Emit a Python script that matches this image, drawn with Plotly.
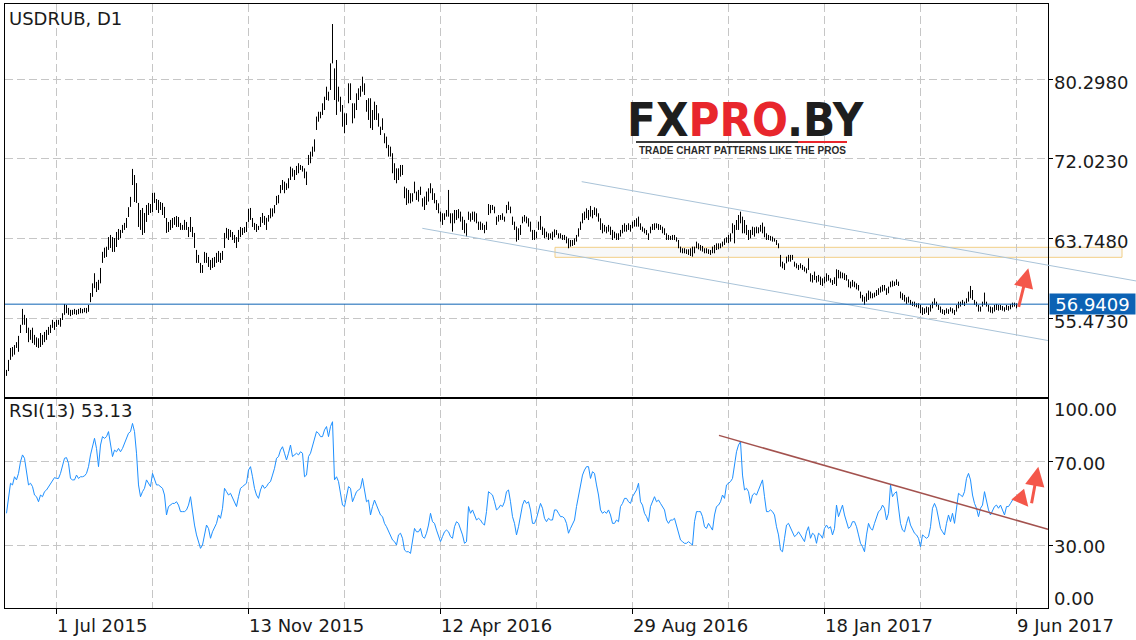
import plotly.graph_objects as go

# ---------------- data ----------------
chart_title = "USDRUB, D1"
rsi_title = "RSI(13) 53.13"
last_price = 56.9409

bar_high = [
    50.12, 51.16, 52.40, 52.50, 52.70, 53.00, 53.65, 54.80, 56.45, 55.83,
    55.50, 54.50, 54.27, 54.50, 53.75, 53.50, 53.40, 53.95, 53.75, 54.06,
    54.27, 54.58, 54.80, 55.31, 55.10, 55.31, 55.31, 55.50, 56.00, 56.96,
    56.86, 56.55, 56.35, 56.35, 56.45, 56.35, 56.45, 56.55, 56.45, 56.55,
    56.55, 56.86, 58.10, 59.10, 60.15, 59.25, 59.46, 60.70, 62.37, 62.80,
    62.90, 63.90, 64.12, 63.90, 63.80, 64.43, 64.74, 64.64, 65.16, 65.37,
    65.88, 67.00, 68.07, 70.97, 70.34, 69.50, 67.44, 66.71, 66.92, 66.40,
    67.23, 67.44, 67.33, 68.50, 68.50, 67.85, 67.75, 67.54, 67.44, 67.03,
    65.88, 65.47, 65.68, 65.88, 65.98, 66.09, 65.98, 65.37, 65.16, 65.68,
    65.47, 64.95, 65.98, 64.95, 64.33, 62.57, 62.05, 61.22, 61.00, 62.36,
    62.26, 61.84, 61.53, 61.74, 61.84, 62.26, 62.46, 62.26, 62.46, 64.33,
    64.85, 64.74, 64.64, 64.43, 64.12, 63.90, 64.64, 64.95, 64.85, 64.95,
    65.47, 66.82, 66.92, 65.88, 65.37, 65.26, 65.06, 65.98, 66.40, 66.09,
    65.90, 66.19, 66.88, 66.88, 67.23, 68.17, 68.27, 69.30, 69.82, 69.65,
    69.48, 70.00, 71.20, 71.03, 70.86, 71.28, 71.56, 71.38, 71.28, 71.03,
    70.69, 72.42, 72.76, 73.28, 74.04, 76.40, 76.90, 76.90, 77.78, 78.46,
    79.50, 78.98, 81.92, 86.00, 81.40, 82.27, 79.50, 78.46, 77.60, 76.74,
    76.74, 79.85, 79.85, 77.78, 77.78, 78.81, 79.33, 79.58, 80.54, 79.85,
    78.12, 78.30, 78.30, 77.08, 77.95, 77.60, 76.74, 75.35, 76.22, 74.67,
    74.32, 73.46, 73.28, 72.60, 71.56, 71.03, 71.03, 71.38, 71.38, 69.13,
    68.96, 68.79, 68.45, 68.45, 69.65, 68.62, 68.79, 69.13, 67.93, 68.10,
    68.62, 68.96, 69.48, 68.96, 68.45, 67.75, 67.40, 66.54, 66.37, 66.37,
    66.71, 68.79, 66.37, 66.37, 66.71, 66.71, 66.80, 66.54, 66.02, 65.68,
    65.33, 66.54, 66.37, 66.54, 66.54, 66.37, 65.50, 65.50, 65.33, 65.16,
    65.50, 67.33, 67.23, 67.23, 67.06, 66.02, 66.19, 66.19, 66.37, 66.02,
    67.23, 67.58, 67.06, 66.02, 65.50, 64.99, 64.81, 65.16, 66.02, 66.19,
    66.02, 65.85, 65.50, 64.64, 64.64, 64.46, 65.50, 66.09, 64.98, 64.81,
    64.46, 64.29, 64.29, 64.46, 64.70, 64.64, 64.29, 64.29, 64.12, 64.12,
    63.95, 63.77, 63.60, 63.60, 63.77, 64.12, 64.81, 65.50, 66.37, 66.54,
    66.88, 66.71, 67.13, 66.71, 66.99, 66.88, 66.37, 65.85, 65.33, 65.16,
    64.98, 65.16, 64.98, 64.64, 64.46, 64.29, 64.29, 64.64, 65.16, 65.33,
    65.16, 65.33, 65.16, 65.50, 65.67, 65.85, 66.02, 65.33, 64.98, 64.81,
    64.64, 64.29, 64.98, 65.26, 65.33, 65.33, 65.26, 65.16, 64.98, 64.81,
    64.29, 64.12, 64.02, 64.12, 64.12, 63.88, 63.60, 62.91, 62.74, 62.74,
    62.63, 62.63, 62.74, 62.91, 62.91, 63.43, 63.25, 63.08, 62.98, 62.74,
    62.74, 62.63, 62.56, 62.91, 63.08, 63.25, 63.25, 63.25, 63.43, 63.77,
    63.88, 64.12, 64.29, 65.33, 65.16, 65.67, 66.19, 66.54, 66.02, 65.67,
    65.16, 64.64, 64.64, 64.98, 64.91, 64.98, 64.91, 65.16, 65.40, 64.98,
    64.29, 64.12, 64.02, 63.95, 63.77, 63.60, 63.25, 62.05, 61.35, 61.18,
    61.87, 62.05, 62.05, 62.05, 61.35, 61.18, 61.01, 61.18, 61.01, 60.83,
    60.66, 61.70, 60.14, 59.97, 60.32, 59.87, 59.97, 59.80, 59.62, 59.80,
    60.14, 59.97, 59.62, 59.45, 59.73, 60.56, 60.49, 60.32, 60.21, 60.14,
    59.97, 59.52, 59.28, 59.45, 59.28, 59.10, 58.93, 58.24, 57.90, 57.72,
    58.07, 58.35, 58.24, 58.07, 58.14, 58.41, 58.59, 58.76, 58.93, 58.93,
    58.59, 58.76, 59.28, 59.38, 59.28, 59.52, 59.28, 58.24, 58.07, 57.90,
    57.65, 57.72, 57.38, 57.20, 57.20, 57.03, 57.03, 56.86, 56.62, 56.51,
    56.69, 56.62, 56.86, 57.20, 57.55, 57.20, 56.86, 56.69, 56.41, 56.34,
    56.51, 56.41, 56.62, 56.51, 56.34, 56.86, 57.20, 57.20, 57.38, 57.20,
    57.55, 58.24, 58.83, 58.41, 57.38, 57.20, 56.86, 56.69, 57.20, 58.14,
    57.20, 56.86, 56.69, 56.62, 56.86, 56.96, 56.86, 56.86, 56.76, 56.62,
    56.86, 56.76, 56.96, 57.10, 57.10, 57.03,
]

bar_low = [
    49.50, 50.00, 51.16, 51.50, 51.70, 52.40, 52.00, 53.95, 54.80, 54.80,
    53.95, 53.00, 53.24, 52.90, 52.72, 52.50, 52.40, 52.50, 52.72, 53.00,
    53.24, 53.75, 53.95, 54.48, 54.27, 54.58, 54.80, 54.60, 55.30, 55.83,
    56.00, 55.83, 55.70, 55.83, 55.90, 55.83, 55.90, 56.00, 56.00, 56.10,
    56.00, 56.15, 57.15, 57.70, 58.60, 58.20, 58.42, 59.10, 61.22, 61.74,
    61.84, 62.57, 62.77, 62.36, 62.36, 62.87, 63.60, 63.80, 64.33, 64.64,
    64.85, 65.98, 67.03, 69.30, 67.54, 67.44, 64.95, 64.64, 64.12, 64.33,
    65.47, 66.19, 66.40, 66.50, 67.44, 66.71, 66.40, 66.71, 66.19, 65.88,
    64.33, 64.43, 64.64, 64.85, 65.16, 64.95, 64.95, 64.64, 64.64, 64.64,
    64.64, 63.90, 64.43, 63.90, 62.77, 61.22, 61.22, 60.18, 60.18, 61.22,
    61.22, 60.80, 60.49, 60.70, 60.80, 61.22, 61.32, 61.22, 61.53, 62.77,
    63.80, 63.60, 63.90, 63.60, 63.29, 62.77, 63.40, 63.90, 64.12, 64.33,
    64.43, 65.47, 65.68, 64.95, 64.64, 64.43, 64.64, 64.95, 65.37, 65.16,
    64.64, 65.50, 65.85, 66.02, 66.37, 67.23, 67.40, 68.45, 68.79, 68.45,
    68.79, 68.96, 69.82, 70.17, 69.82, 70.34, 70.52, 70.86, 70.69, 70.00,
    69.30, 71.38, 71.56, 72.25, 72.76, 75.01, 75.87, 76.22, 76.57, 77.08,
    78.12, 78.05, 79.16, 81.92, 78.12, 76.57, 77.95, 76.90, 75.35, 74.67,
    75.53, 77.78, 78.12, 75.70, 76.22, 77.08, 78.12, 78.46, 78.98, 78.64,
    76.90, 76.05, 75.20, 75.01, 76.05, 76.05, 75.35, 74.49, 75.01, 73.63,
    73.12, 72.25, 72.25, 70.52, 69.82, 69.48, 69.82, 70.17, 70.34, 67.93,
    67.23, 67.40, 67.40, 67.58, 68.45, 67.75, 67.58, 68.27, 67.06, 66.71,
    67.23, 67.58, 68.45, 67.75, 67.40, 66.71, 66.37, 65.50, 65.16, 65.68,
    66.02, 66.02, 65.33, 64.47, 65.33, 65.68, 65.85, 65.50, 64.64, 64.30,
    63.95, 65.68, 65.50, 65.68, 65.50, 65.33, 64.64, 64.64, 64.64, 64.30,
    64.64, 66.19, 66.37, 66.71, 66.37, 65.16, 65.50, 65.68, 65.68, 65.50,
    66.37, 66.71, 66.37, 65.16, 64.64, 63.43, 63.60, 64.12, 65.33, 65.50,
    65.33, 64.98, 64.46, 63.60, 63.60, 63.77, 64.64, 64.64, 64.12, 63.77,
    63.88, 63.60, 63.77, 63.60, 63.88, 64.12, 63.77, 63.77, 63.60, 63.60,
    63.25, 62.74, 62.91, 62.98, 63.08, 63.43, 63.95, 64.64, 65.33, 65.67,
    65.85, 65.67, 66.02, 65.85, 66.19, 66.02, 65.50, 64.64, 64.29, 64.46,
    64.29, 64.46, 64.12, 63.60, 63.77, 63.60, 63.60, 63.95, 64.29, 64.46,
    64.46, 64.64, 64.46, 64.81, 64.98, 64.98, 64.98, 64.64, 64.46, 64.29,
    64.12, 63.60, 64.29, 64.64, 64.64, 64.81, 64.64, 64.64, 64.29, 64.12,
    63.60, 63.60, 63.60, 63.60, 63.60, 63.43, 62.74, 62.29, 62.22, 62.22,
    62.15, 62.05, 61.94, 61.87, 62.22, 62.74, 62.63, 62.49, 62.39, 62.22,
    62.22, 62.15, 62.05, 62.22, 62.22, 62.56, 62.63, 62.74, 62.91, 63.08,
    63.32, 63.25, 63.43, 64.29, 63.25, 64.64, 64.64, 65.33, 64.29, 64.29,
    64.12, 63.60, 63.77, 64.12, 63.95, 64.29, 64.29, 64.46, 64.29, 63.88,
    63.60, 63.60, 63.53, 63.43, 63.43, 63.08, 62.74, 60.83, 60.66, 60.49,
    61.18, 61.35, 61.35, 61.53, 60.83, 60.66, 60.49, 60.66, 60.49, 60.32,
    60.14, 60.49, 59.28, 59.18, 59.45, 59.18, 59.28, 58.93, 58.83, 59.10,
    59.28, 59.38, 59.18, 58.93, 59.04, 58.83, 59.62, 59.62, 59.62, 59.45,
    59.38, 58.69, 58.59, 58.76, 58.69, 58.48, 58.35, 57.55, 57.20, 56.86,
    57.20, 57.38, 57.55, 57.55, 57.65, 57.79, 57.90, 58.14, 58.24, 58.35,
    57.90, 58.07, 58.69, 58.76, 58.83, 58.93, 58.83, 57.55, 57.38, 57.20,
    56.96, 57.10, 56.86, 56.75, 56.69, 56.62, 56.51, 56.00, 55.82, 55.93,
    56.06, 55.82, 56.17, 56.51, 56.86, 56.69, 56.34, 56.06, 55.93, 55.82,
    55.99, 55.93, 56.17, 55.99, 55.82, 56.17, 56.51, 56.69, 56.86, 56.75,
    57.03, 57.20, 57.55, 57.38, 56.86, 56.69, 56.17, 56.17, 56.69, 56.86,
    56.69, 56.17, 56.06, 55.99, 56.17, 56.34, 56.27, 56.34, 56.27, 56.17,
    56.34, 56.27, 56.41, 56.62, 56.69, 56.51,
]

rsi13 = [
    45.1, 53.8, 59.4, 58.6, 62.5, 61.0, 64.1, 69.7, 72.9, 71.3,
    64.9, 58.6, 59.4, 57.8, 53.8, 53.0, 50.6, 53.8, 53.0, 55.4,
    56.2, 57.8, 59.4, 61.0, 62.1, 61.7, 61.7, 64.1, 68.1, 71.3,
    71.6, 68.9, 61.7, 61.0, 61.0, 63.3, 61.7, 62.5, 62.5, 62.9,
    64.1, 67.3, 72.9, 77.6, 80.8, 76.0, 67.3, 77.6, 81.6, 80.8,
    81.6, 84.0, 78.4, 72.1, 75.2, 74.4, 76.0, 74.4, 76.0, 78.4,
    80.8, 83.2, 84.0, 87.9, 84.0, 73.7, 58.6, 53.0, 55.4, 57.0,
    61.0, 59.4, 57.8, 64.1, 61.7, 58.6, 58.6, 57.8, 57.0, 53.8,
    44.3, 48.3, 49.0, 49.8, 49.8, 50.6, 49.0, 45.9, 45.9, 45.9,
    46.7, 49.0, 53.0, 45.1, 39.5, 34.8, 31.6, 28.4, 30.0, 35.6,
    39.5, 37.9, 33.2, 36.3, 38.7, 40.3, 44.3, 42.7, 47.5, 57.0,
    55.4, 53.8, 54.6, 52.2, 50.6, 48.3, 53.0, 57.0, 57.8, 58.6,
    59.4, 65.7, 67.3, 62.5, 57.0, 53.8, 52.2, 56.2, 58.6, 57.0,
    57.8, 59.4, 60.2, 63.3, 66.5, 71.3, 72.1, 75.2, 76.8, 73.7,
    70.5, 73.7, 77.6, 72.1, 72.9, 73.7, 72.9, 74.4, 73.7, 62.5,
    63.3, 72.1, 73.7, 76.8, 80.8, 84.0, 83.2, 81.6, 81.6, 84.8,
    86.4, 81.6, 86.4, 88.7, 61.0, 62.5, 60.2, 55.4, 49.0, 48.3,
    53.8, 57.8, 57.0, 50.6, 53.0, 55.4, 56.2, 57.0, 61.7, 56.2,
    50.6, 51.4, 44.3, 48.3, 51.4, 49.0, 46.7, 44.3, 43.5, 40.3,
    38.7, 36.3, 34.0, 32.4, 31.6, 30.0, 34.8, 35.6, 33.2, 27.6,
    26.8, 26.8, 26.0, 33.2, 37.9, 36.3, 36.3, 37.9, 34.0, 33.2,
    35.6, 39.5, 45.1, 41.1, 40.3, 37.1, 34.8, 31.6, 34.0, 36.3,
    37.1, 36.3, 34.0, 33.2, 38.7, 41.1, 40.3, 37.9, 34.8, 30.8,
    31.6, 48.3, 45.1, 46.7, 44.3, 41.9, 42.7, 41.9, 40.3, 39.5,
    45.9, 55.4, 54.6, 53.8, 50.6, 46.7, 47.5, 49.0, 48.3, 50.6,
    55.4, 56.2, 50.6, 43.5, 40.3, 34.8, 38.7, 44.3, 49.0, 51.4,
    49.8, 50.6, 46.7, 40.3, 40.3, 42.7, 46.7, 49.8, 47.5, 42.7,
    41.1, 42.7, 41.9, 41.9, 46.7, 46.7, 45.1, 43.5, 43.5, 42.7,
    40.3, 35.6, 37.9, 40.3, 41.9, 48.3, 53.0, 58.6, 63.3, 65.7,
    67.3, 67.3, 61.7, 64.9, 64.1, 58.6, 53.8, 46.7, 45.1, 45.9,
    45.1, 46.7, 44.3, 40.3, 40.3, 41.9, 41.1, 48.3, 49.8, 52.2,
    52.2, 50.6, 49.8, 53.0, 54.6, 56.2, 59.4, 50.6, 49.0, 45.1,
    43.5, 41.1, 48.3, 50.6, 53.0, 50.6, 51.4, 49.8, 48.3, 46.7,
    41.9, 40.3, 41.9, 41.9, 42.7, 39.5, 36.3, 32.4, 31.6, 30.8,
    30.8, 31.6, 30.8, 30.0, 41.1, 45.9, 45.9, 45.9, 43.5, 38.7,
    37.9, 40.3, 38.7, 37.1, 44.3, 48.3, 49.0, 50.6, 53.8, 52.2,
    58.6, 59.4, 60.2, 61.7, 68.1, 74.4, 77.6, 79.2, 63.3, 56.2,
    57.0, 55.4, 49.8, 53.8, 54.6, 53.8, 56.2, 58.6, 61.0, 53.0,
    45.9, 45.9, 46.7, 45.9, 44.3, 38.7, 34.8, 27.6, 26.8, 33.2,
    39.5, 40.3, 37.9, 36.3, 34.0, 34.8, 36.3, 34.8, 33.2, 31.6,
    36.3, 38.7, 33.2, 35.6, 34.8, 30.8, 35.6, 34.8, 33.2, 37.9,
    39.5, 37.9, 38.7, 34.8, 37.9, 49.0, 43.5, 46.7, 49.0, 44.3,
    41.1, 37.9, 38.7, 41.1, 41.1, 38.7, 34.8, 30.8, 29.2, 26.8,
    34.8, 40.3, 37.9, 37.1, 40.3, 42.7, 45.9, 46.7, 49.0, 47.5,
    41.9, 45.1, 58.6, 53.0, 54.6, 55.4, 48.3, 40.3, 37.1, 36.3,
    40.3, 43.5, 39.5, 37.1, 35.6, 34.8, 33.2, 29.2, 34.8, 34.0,
    33.2, 34.0, 38.7, 47.5, 49.8, 47.5, 41.9, 37.9, 36.3, 34.8,
    40.3, 44.3, 41.1, 45.1, 40.3, 49.0, 54.6, 53.8, 53.0, 55.4,
    61.7, 64.1, 61.0, 53.8, 49.8, 47.5, 43.5, 47.5, 49.0, 55.4,
    50.6, 46.7, 44.3, 46.7, 48.3, 49.0, 47.5, 49.0, 46.7, 44.3,
    48.3, 48.3, 49.8, 51.4, 52.2, 53.13,
]

price_levels = [80.2980, 72.0230, 63.7480, 55.4730]
rsi_levels = [100, 70, 30, 0]
date_ticks = [25, 121, 217, 313, 409, 505]          # bar index of each dated tick
date_labels = ["1 Jul 2015", "13 Nov 2015", "12 Apr 2016",
               "29 Aug 2016", "18 Jan 2017", "9 Jun 2017"]
date_minor = [73, 169, 265, 361, 457]               # undated grid lines

# hand-drawn analysis objects (bar index, value)
upper_channel = [(287.6, 69.65), (564.75, 59.35)]
lower_channel = [(207.9, 64.81), (520.75, 53.17)]
resistance_zone = (274.25, 557.75, 61.80, 62.84)
rsi_trend = [(356.25, 82.2), (520.75, 37.5)]

# ---------------- layout geometry ----------------
W, H = 1136, 640
ML, MR, MT, MB = 5, 88, 4, 32
PW = W - ML - MR
PH = H - MT - MB
split = 210 / PH
x_range = [-0.75, 520.75]
price_range = [47.207, 88.078]

FONT = "DejaVu Sans"
TXT = "#1a1a1a"
GRID = "#c6c6c6"
DASH = "8px,4px"
BLUE = "#0c62b4"
RED = "#f4574a"


def px_x(px):
    return (px - ML) / PW


def px_y(py):
    return (H - MB - py) / PH


def bar_x(i):
    return (i - x_range[0]) / (x_range[1] - x_range[0])


n = min(len(bar_high), len(bar_low))
seg_x, seg_y = [], []
for i in range(n):
    seg_x += [i, i, None]
    seg_y += [bar_low[i], bar_high[i], None]

fig = go.Figure()
fig.add_trace(go.Scatter(x=seg_x, y=seg_y, mode="lines", xaxis="x2", yaxis="y",
                         line=dict(color="#000000", width=1), hoverinfo="skip",
                         showlegend=False))
fig.add_trace(go.Scatter(x=list(range(len(rsi13))), y=rsi13, mode="lines",
                         xaxis="x", yaxis="y2", line=dict(color="#1e90ff", width=1),
                         showlegend=False))

xcommon = dict(range=x_range, showline=True, linecolor="#000", linewidth=1, mirror=True,
               zeroline=False, tickmode="array", tickvals=date_ticks,
               showgrid=True, gridcolor=GRID, griddash=DASH, gridwidth=1,
               showticklabels=False,
               minor=dict(tickmode="array", tickvals=date_minor, showgrid=True,
                          gridcolor=GRID, griddash=DASH, gridwidth=1, ticks=""))
ycommon = dict(side="right", showline=True, linecolor="#000", linewidth=1, mirror=True,
               zeroline=False, tickmode="array", showgrid=True, gridcolor=GRID,
               griddash=DASH, gridwidth=1, showticklabels=False,
               ticks="outside", ticklen=4, tickcolor="#000")

fig.update_layout(
    width=W, height=H, autosize=False,
    margin=dict(l=ML, r=MR, t=MT, b=MB, pad=0),
    paper_bgcolor="#ffffff", plot_bgcolor="#ffffff",
    showlegend=False, hovermode=False,
    xaxis=dict(anchor="y2", domain=[0, 1], ticks="outside", ticklen=5, tickcolor="#000",
               **xcommon),
    xaxis2=dict(anchor="y", domain=[0, 1], ticks="", **xcommon),
    yaxis=dict(domain=[split, 1], anchor="x2", range=price_range,
               tickvals=price_levels, **ycommon),
    yaxis2=dict(domain=[0, split], anchor="x", range=[0, 100],
                tickvals=[70, 30], **ycommon),
)

shapes = [
    # resistance zone
    dict(type="rect", xref="paper", yref="y", layer="between",
         x0=bar_x(resistance_zone[0]), x1=bar_x(resistance_zone[1]),
         y0=resistance_zone[2], y1=resistance_zone[3],
         fillcolor="rgba(244,244,244,0.6)", line=dict(color="#f2cf86", width=1)),
    # price channel
    dict(type="line", xref="paper", yref="y",
         x0=bar_x(upper_channel[0][0]), y0=upper_channel[0][1],
         x1=bar_x(upper_channel[1][0]), y1=upper_channel[1][1],
         line=dict(color="#a9c3d8", width=1)),
    dict(type="line", xref="x2", yref="y",
         x0=lower_channel[0][0], y0=lower_channel[0][1],
         x1=lower_channel[1][0], y1=lower_channel[1][1],
         line=dict(color="#a9c3d8", width=1)),
    # last price line
    dict(type="line", xref="paper", yref="y", x0=0, x1=1, y0=last_price, y1=last_price,
         line=dict(color=BLUE, width=1)),
    # RSI trend line
    dict(type="line", xref="x", yref="y2",
         x0=rsi_trend[0][0], y0=rsi_trend[0][1], x1=rsi_trend[1][0], y1=rsi_trend[1][1],
         line=dict(color="#a3524e", width=1.5)),
    # logo underline
    dict(type="line", xref="paper", yref="paper", x0=px_x(636), x1=px_x(798),
         y0=px_y(142), y1=px_y(142), line=dict(color="#3a3a3a", width=2)),
    dict(type="line", xref="paper", yref="paper", x0=px_x(798), x1=px_x(847),
         y0=px_y(142), y1=px_y(142), line=dict(color="#e8262c", width=2)),
]

ann = []
f18 = dict(family=FONT, size=18, color=TXT)
ann.append(dict(xref="paper", yref="paper", x=px_x(7), y=px_y(19), xanchor="left",
                yanchor="middle", text=chart_title, showarrow=False, font=f18))
ann.append(dict(xref="paper", yref="paper", x=px_x(7), y=px_y(410), xanchor="left",
                yanchor="middle", text=rsi_title, showarrow=False, font=f18))
for t, lab in zip(date_ticks, date_labels):
    ann.append(dict(xref="x", yref="paper", x=t, y=px_y(625.5), xanchor="left",
                    yanchor="middle", xshift=-2, text=lab, showarrow=False, font=f18))
for v in price_levels:
    ann.append(dict(xref="paper", yref="y", x=px_x(1052), y=v, xanchor="left",
                    yanchor="middle", yshift=-3, text=f"{v:.4f}", showarrow=False,
                    font=f18))
rsi_shift = {100: -11, 70: -2, 30: -1, 0: 10}
for v in rsi_levels:
    ann.append(dict(xref="paper", yref="y2", x=px_x(1052), y=v, xanchor="left",
                    yanchor="middle", yshift=rsi_shift[v], text=f"{v:.2f}",
                    showarrow=False, font=f18))
# last price tag
ann.append(dict(xref="paper", yref="y", x=px_x(1049), y=last_price, xanchor="left",
                yanchor="middle", text=f"{last_price:.4f}", showarrow=False,
                bgcolor=BLUE, width=83, height=18, borderpad=1, align="center",
                font=dict(family=FONT, size=18, color="#ffffff")))
# logo
ann.append(dict(xref="paper", yref="paper", x=px_x(746), y=px_y(120), xanchor="center",
                yanchor="middle", showarrow=False,
                text="<b>FX<span style='color:#e8262c'>PRO</span>.BY</b>",
                font=dict(family="DejaVu Sans Condensed, DejaVu Sans, sans-serif",
                          size=47, color="#1e1e1e")))
ann.append(dict(xref="paper", yref="paper", x=px_x(742), y=px_y(150), xanchor="center",
                yanchor="middle", showarrow=False,
                text="<b>TRADE CHART PATTERNS LIKE THE PROS</b>",
                font=dict(family="Liberation Sans, Arial, sans-serif", size=10,
                          color="#2a2a2a")))
# arrows
ann.append(dict(xref="x2", yref="y", x=510.9, y=60.66, ax=-10, ay=40, text="",
                showarrow=True, arrowhead=2, arrowsize=1.3, arrowwidth=3,
                arrowcolor=RED))
ann.append(dict(xref="x", yref="y2", x=510.9, y=48.2, ax=-10, ay=-12, text="",
                showarrow=True, arrowhead=2, arrowsize=1.1, arrowwidth=3,
                arrowcolor=RED))
ann.append(dict(xref="x", yref="y2", x=515.9, y=67.3, ax=-7, ay=38, text="",
                showarrow=True, arrowhead=2, arrowsize=1.3, arrowwidth=3,
                arrowcolor=RED))

fig.update_layout(shapes=shapes, annotations=ann)
fig.write_html("out.html", config={"displayModeBar": False},
               post_script="document.body.style.margin='0';"
                           "document.body.style.overflow='hidden';")
